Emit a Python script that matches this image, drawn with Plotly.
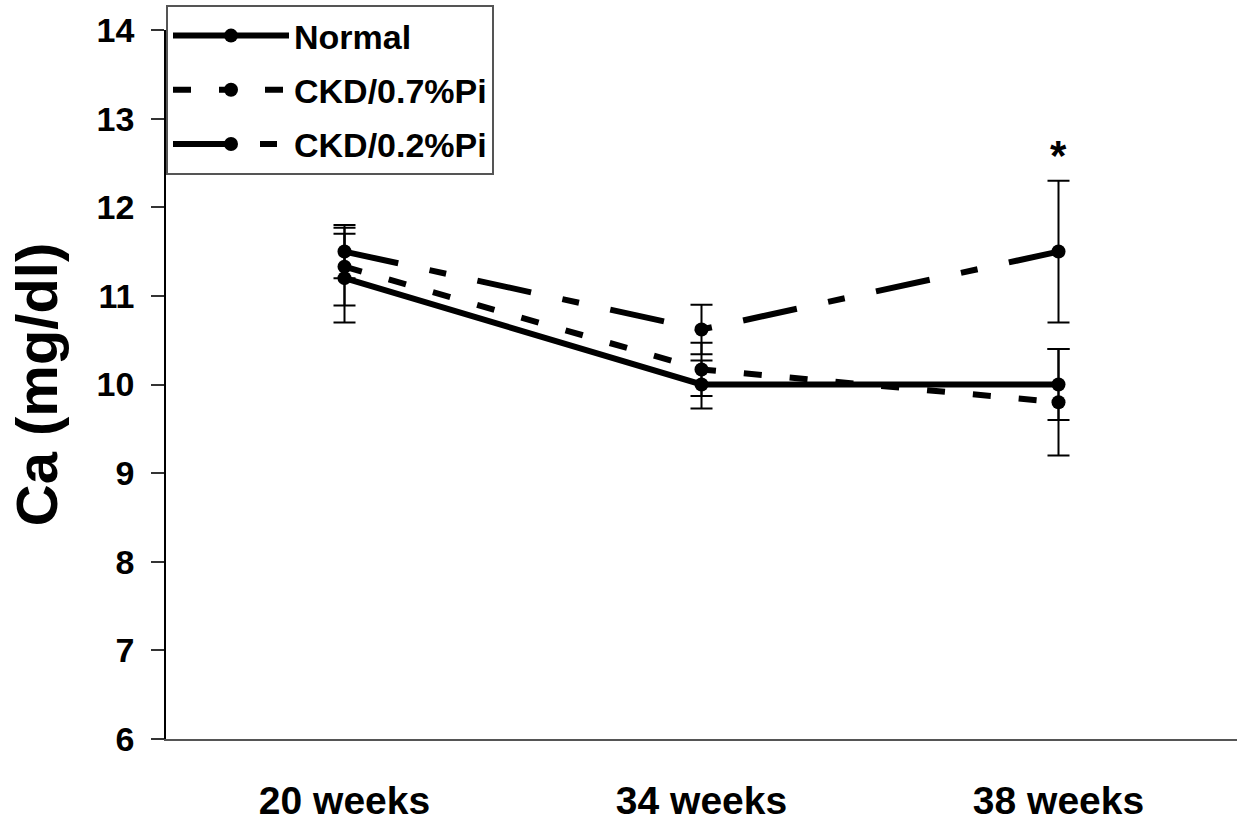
import plotly.graph_objects as go

weeks = ["20 weeks", "34 weeks", "38 weeks"]
normal = [11.2, 10.0, 10.0]
normal_err = [0.5, 0.27, 0.4]
ckd07 = [11.33, 10.17, 9.8]
ckd07_err = [0.44, 0.3, 0.6]
ckd02 = [11.5, 10.62, 11.5]
ckd02_err = [0.3, 0.28, 0.8]

FONT = "Liberation Sans, Arial, sans-serif"

fig = go.Figure()

def add(name, y, err, dash):
    fig.add_trace(go.Scatter(
        x=weeks, y=y, name=name, mode="lines+markers", legendgroup=name,
        line=dict(color="black", width=6, dash=dash),
        marker=dict(color="black", size=14),
        error_y=dict(type="data", array=err, visible=True, color="black",
                     thickness=2, width=11),
    ))

add("Normal", normal, normal_err, "solid")
add("CKD/0.7%Pi", ckd07, ckd07_err, "18px,28px")
add("CKD/0.2%Pi", ckd02, ckd02_err, "55px,32px,17px,32px")

fig.add_annotation(x=weeks[2], y=ckd02[2] + ckd02_err[2], text="<b>*</b>",
                   showarrow=False, yshift=25,
                   font=dict(family=FONT, size=42, color="black"))

# plot area: left 166px, right 1237px, y=14 at 30px, y=6 at 739px
fig.update_layout(
    width=1242, height=821,
    margin=dict(l=166, r=5, t=5, b=82, autoexpand=False),
    plot_bgcolor="white", paper_bgcolor="white",
    font=dict(family=FONT, color="black"),
    showlegend=True,
    legend=dict(x=0, y=1, xanchor="left", yanchor="top",
                bgcolor="white", bordercolor="#555555", borderwidth=2,
                font=dict(family=FONT, size=34, color="black", weight="bold"),
                itemwidth=116, tracegroupgap=7),
    xaxis=dict(range=[-0.5, 2.5], showline=True, linecolor="#555555",
               linewidth=2, ticks="", showgrid=False, zeroline=False,
               automargin=False,
               tickfont=dict(family=FONT, size=39, weight="bold"),
               ticklabelstandoff=26),
    yaxis=dict(range=[6, 14], dtick=1, domain=[0, 709 / 734],
               showline=True, linecolor="black", automargin=False,
               linewidth=1.5, ticks="outside", ticklen=13, tickwidth=1.5,
               tickcolor="#333333", showgrid=False, zeroline=False,
               tickfont=dict(family=FONT, size=34, weight="bold"),
               ticklabelstandoff=10,
               title=dict(text="Ca (mg/dl)", standoff=20,
                          font=dict(family=FONT, size=58, weight="bold"))),
)

fig.write_html("out.html", config={"displayModeBar": False},
               post_script="document.body.style.margin='0';")
